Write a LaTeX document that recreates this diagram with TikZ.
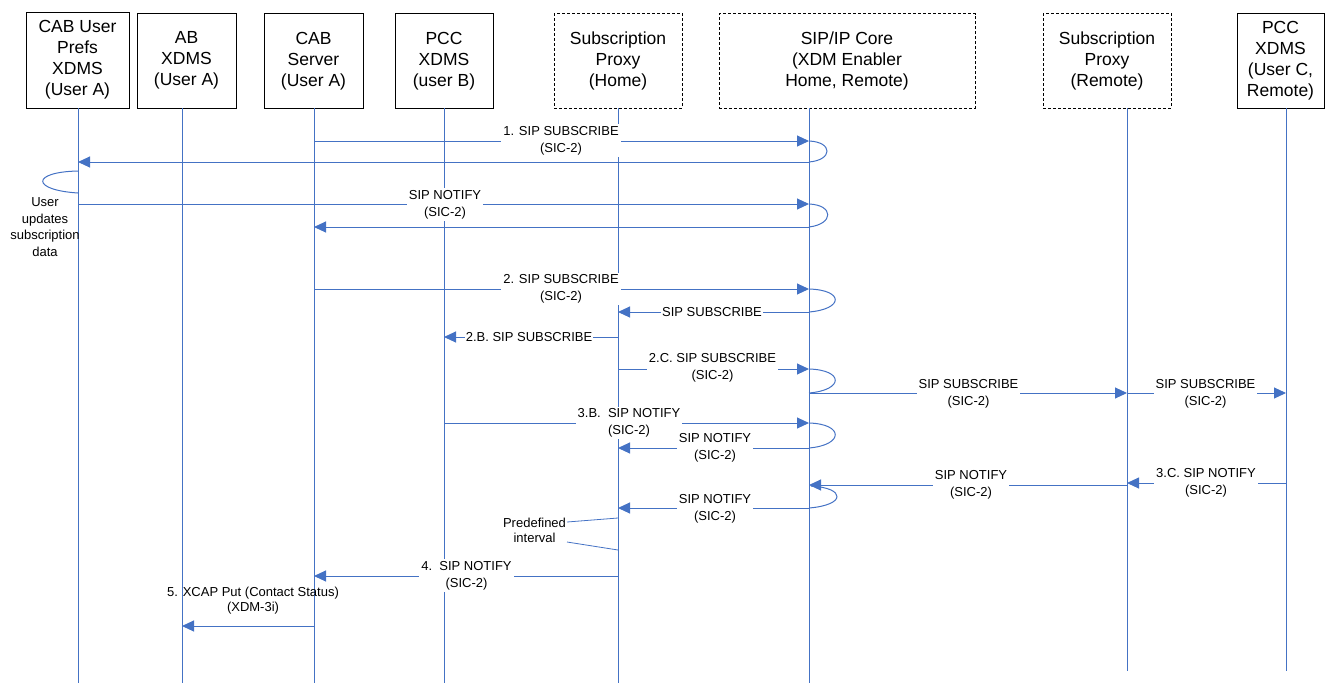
\documentclass[tikz,border=0pt]{standalone}
\usepackage{fontspec}
\setmainfont{Liberation Sans}
\usetikzlibrary{arrows.meta}
\definecolor{ln}{RGB}{68,114,196}
\begin{document}
\begin{tikzpicture}[x=1pt,y=-1pt,
 box/.style={draw=black, line width=1pt, inner sep=0pt, align=center, font=\fontsize{17.5}{21}\selectfont},
 dbox/.style={box, dash pattern=on 3pt off 2pt},
 life/.style={draw=ln, line width=1pt},
 plain/.style={draw=ln, line width=1pt},
 msg/.style={draw=ln, line width=1pt, -{Triangle[length=12pt,width=11pt]}},
 lbl/.style={fill=white, inner sep=2pt, align=center, font=\fontsize{13}{17}\selectfont},
 txt/.style={inner sep=0pt, align=center, font=\fontsize{13}{15.5}\selectfont}]
\useasboundingbox (0,0) rectangle (1325,683);

% boxes
\node[box, minimum width=103pt, minimum height=96pt] (b1) at (77.5,60) {CAB User\\Prefs\\XDMS\\(User A)};
\node[box, minimum width=99pt, minimum height=94.5pt] (b2) at (186.5,60.75) {AB\\XDMS\\(User A)};
\node[box, minimum width=99pt, minimum height=94.5pt] (b3) at (313.5,60.75) {CAB\\Server\\(User A)};
\node[box, minimum width=98pt, minimum height=94.5pt] (b4) at (444,60.75) {PCC\\XDMS\\(user B)};
\node[dbox, minimum width=128pt, minimum height=94.5pt] (b5) at (618,60.75) {Subscription\\Proxy\\(Home)};
\node[dbox, minimum width=256pt, minimum height=94.5pt] (b6) at (847,60.75) {SIP/IP Core\\(XDM Enabler\\Home, Remote)};
\node[dbox, minimum width=128pt, minimum height=94.5pt] (b7) at (1107,60.75) {Subscription\\Proxy\\(Remote)};
\node[box, minimum width=87pt, minimum height=94.5pt] (b8) at (1280.5,60.75) {PCC\\XDMS\\(User C,\\Remote)};

% lifelines
\coordinate (L1) at (78,108);   \coordinate (E1) at (78,683);
\coordinate (L2) at (182,108);  \coordinate (E2) at (182,683);
\coordinate (L3) at (314,108);  \coordinate (E3) at (314,683);
\coordinate (L4) at (444,108);  \coordinate (E4) at (444,683);
\coordinate (L5) at (618,108);  \coordinate (E5) at (618,683);
\coordinate (L6) at (809,108);  \coordinate (E6) at (809,683);
\coordinate (L7) at (1127,108); \coordinate (E7) at (1127,671);
\coordinate (L8) at (1286,108); \coordinate (E8) at (1286,671);
\foreach \i in {1,...,8} {\draw[life] (L\i) -- (E\i);}

% 1. SIP SUBSCRIBE
\draw[msg] (L3 |- 0,141) -- (L6 |- 0,141);
\draw[plain] (L6 |- 0,141) .. controls (833,142) and (833,160) .. (L6 |- 0,162);
\draw[msg] (L6 |- 0,162) -- (L1 |- 0,162);
\node[lbl] (t1) at (561,140.5) {1. SIP SUBSCRIBE\\(SIC-2)};

% user updates
\draw[plain] (L1 |- 0,171) .. controls (31,172) and (31,190) .. (L1 |- 0,193);
\node[txt, font=\fontsize{13}{16.7}\selectfont] (uu) at (45,227) {User\\updates\\subscription\\data};

% SIP NOTIFY
\draw[msg] (L1 |- 0,204) -- (L6 |- 0,204);
\draw[plain] (L6 |- 0,204) .. controls (834,205) and (834,224) .. (L6 |- 0,227);
\draw[msg] (L6 |- 0,227) -- (L3 |- 0,227);
\node[lbl] (t2) at (445,204.5) {SIP NOTIFY\\(SIC-2)};

% 2. SIP SUBSCRIBE
\draw[msg] (L3 |- 0,289) -- (L6 |- 0,289);
\draw[plain] (L6 |- 0,289) .. controls (844,290) and (844,309) .. (L6 |- 0,312);
\draw[msg] (L6 |- 0,312) -- (L5 |- 0,312);
\node[lbl] (t3) at (561,289) {2. SIP SUBSCRIBE\\(SIC-2)};
\node[lbl, inner sep=1pt] (t4) at (712,312) {SIP SUBSCRIBE};

% 2.B
\draw[msg] (L5 |- 0,337) -- (L4 |- 0,337);
\node[lbl, inner sep=1pt] (t5) at (529,337) {2.B. SIP SUBSCRIBE};

% 2.C
\draw[msg] (L5 |- 0,369) -- (L6 |- 0,369);
\draw[plain] (L6 |- 0,369) .. controls (844,370) and (844,390) .. (L6 |- 0,393);
\node[lbl] (t6) at (712.5,368) {2.C. SIP SUBSCRIBE\\(SIC-2)};

% to remote
\draw[msg] (L6 |- 0,393) -- (L7 |- 0,393);
\draw[msg] (L7 |- 0,393) -- (L8 |- 0,393);
\node[lbl] (t7) at (968.5,393.5) {SIP SUBSCRIBE\\(SIC-2)};
\node[lbl] (t8) at (1205.5,393.5) {SIP SUBSCRIBE\\(SIC-2)};

% 3.B
\draw[msg] (L4 |- 0,423) -- (L6 |- 0,423);
\draw[plain] (L6 |- 0,423) .. controls (844,424) and (844,445) .. (L6 |- 0,448);
\draw[msg] (L6 |- 0,448) -- (L5 |- 0,448);
\node[lbl] (t9) at (629,423) {3.B.\ \ SIP NOTIFY\\(SIC-2)};
\node[lbl] (t10) at (715,447.5) {SIP NOTIFY\\(SIC-2)};

% 3.C
\draw[msg] (L8 |- 0,483) -- (L7 |- 0,483);
\node[lbl] (t11) at (1206,482.5) {3.C. SIP NOTIFY\\(SIC-2)};
\draw[msg] (L7 |- 0,485) -- (L6 |- 0,485);
\coordinate (tip) at (811,486);
\draw[plain] (tip) .. controls (846,488) and (846,505) .. (L6 |- 0,508);
\node[lbl] (t12) at (971,484.5) {SIP NOTIFY\\(SIC-2)};
\draw[msg] (L6 |- 0,508) -- (L5 |- 0,508);
\node[lbl] (t13) at (715,509) {SIP NOTIFY\\(SIC-2)};

% predefined interval
\node[txt] (pi) at (534.5,530.5) {Predefined\\interval};
\coordinate (p1) at (567,522);
\coordinate (p2) at (567,542);
\draw[plain, line width=0.8pt] (p1) -- (L5 |- 0,518);
\draw[plain, line width=0.8pt] (p2) -- (L5 |- 0,550);

% 4.
\draw[msg] (L5 |- 0,576) -- (L3 |- 0,576);
\node[lbl] (t14) at (466.5,575.5) {4.\ \ SIP NOTIFY\\(SIC-2)};

% 5.
\node[txt] (t15) at (253,600.5) {5. XCAP Put (Contact Status)\\(XDM-3i)};
\draw[msg] (L3 |- 0,626) -- (L2 |- 0,626);
\end{tikzpicture}
\end{document}
